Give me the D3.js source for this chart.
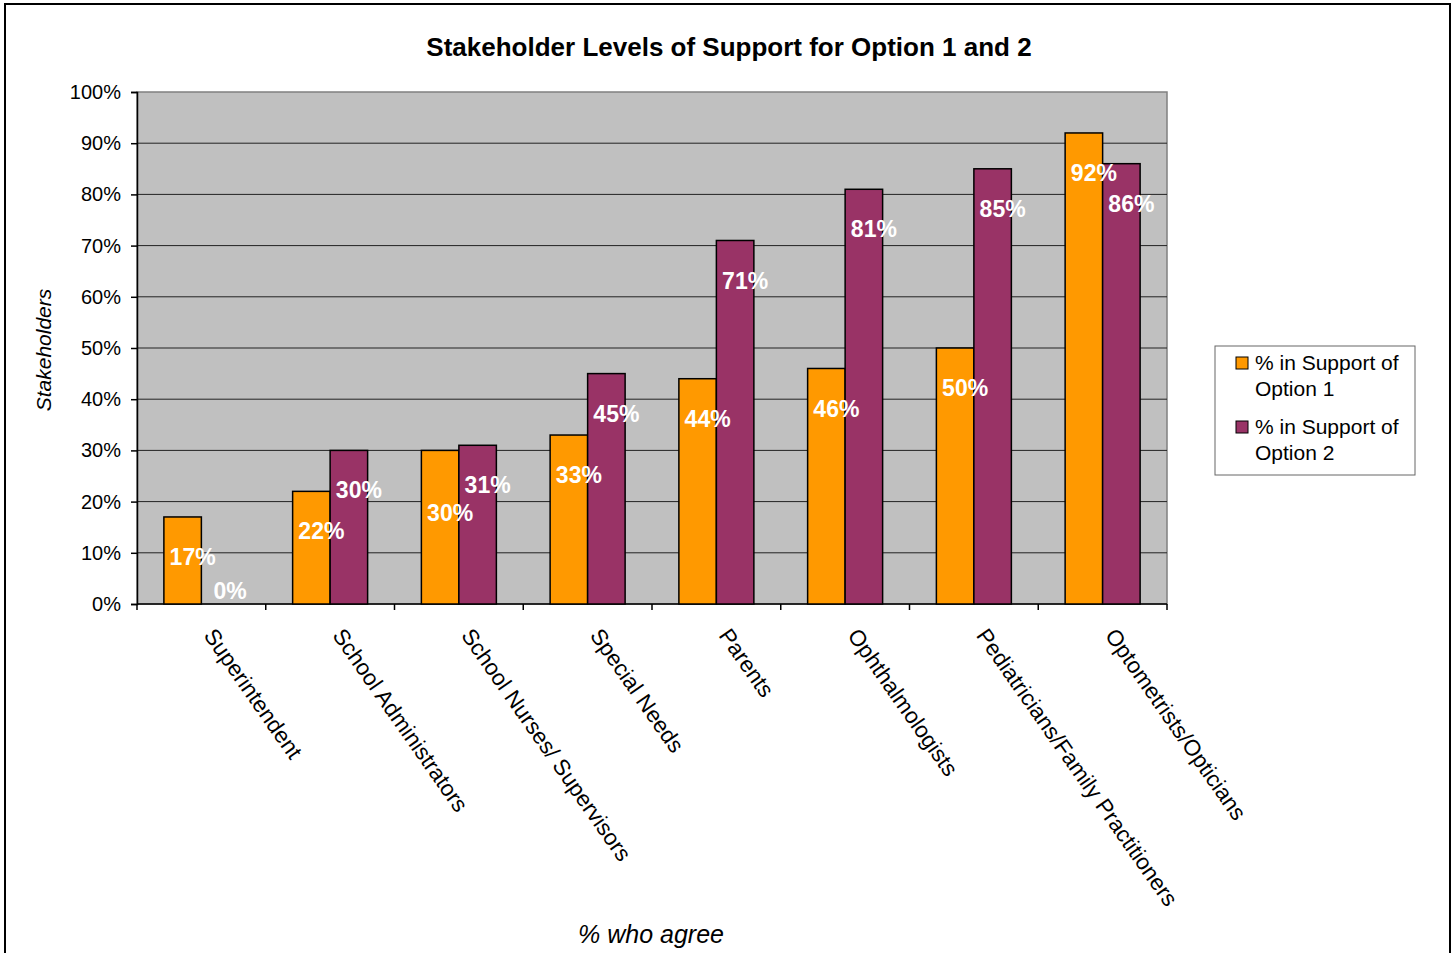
<!DOCTYPE html>
<html>
<head>
<meta charset="utf-8">
<script src="https://cdn.jsdelivr.net/npm/d3@7"></script>
<style>
  body { margin: 0; background: #fff; }
  svg { font-family: Arial, "Liberation Sans", sans-serif; }
</style>
</head>
<body>
<div id="chart"></div>
<script>
// chart data
var categories = ['Superintendent', 'School Administrators', 'School Nurses/ Supervisors',
  'Special Needs', 'Parents', 'Ophthalmologists', 'Pediatricians/Family Practitioners',
  'Optometrists/Opticians'];
var seriesNames = ['% in Support of Option 1', '% in Support of Option 2'];
var option1 = [17, 22, 30, 33, 44, 46, 50, 92];
var option2 = [0, 30, 31, 45, 71, 81, 85, 86];
var yTicks = [0, 10, 20, 30, 40, 50, 60, 70, 80, 90, 100];

var colors = ['#FF9900', '#993366'];

var width = 1456, height = 953;
var margin = {top: 92, left: 137, right: 289, bottom: 349};
var plotW = width - margin.left - margin.right,
    plotH = height - margin.top - margin.bottom;

var svg = d3.select('#chart').append('svg')
  .attr('width', width)
  .attr('height', height);

// outer frame
svg.append('rect')
  .attr('x', 5).attr('y', 4)
  .attr('width', 1445).attr('height', 970)
  .style('fill', 'none').style('stroke', '#000').style('stroke-width', 2);

var xScale = d3.scaleBand()
  .domain(categories)
  .range([0, plotW])
  .padding(0);

var xInner = d3.scaleBand()
  .domain([0, 1])
  .range([0, xScale.bandwidth()])
  .paddingInner(0)
  .paddingOuter(0.717);

var yScale = d3.scaleLinear()
  .domain([0, 100])
  .range([plotH, 0]);

var g = svg.append('g')
  .attr('transform', 'translate(' + margin.left + ',' + margin.top + ')');

// plot background
g.append('rect')
  .attr('width', plotW).attr('height', plotH)
  .style('fill', '#C0C0C0')
  .style('stroke', '#808080').style('stroke-width', 1.5);

// gridlines
g.selectAll('.grid').data(yTicks.filter(function(d) { return d > 0 && d < 100; }))
  .enter().append('line')
  .attr('x1', 0).attr('x2', plotW)
  .attr('y1', function(d) { return yScale(d); })
  .attr('y2', function(d) { return yScale(d); })
  .style('stroke', '#222').style('stroke-width', 1);

// y axis
var vAxis = d3.axisLeft(yScale)
  .tickValues(yTicks)
  .tickSize(6)
  .tickPadding(10)
  .tickFormat(function(d) { return d + '%'; });
var vGuide = g.append('g').call(vAxis);
vGuide.select('.domain').style('stroke', '#000').style('stroke-width', 1.5);
vGuide.selectAll('line').style('stroke', '#000').style('stroke-width', 1.5);
vGuide.selectAll('text')
  .style('font-size', '20px')
  .style('fill', '#000')
  .attr('font-family', 'Arial, "Liberation Sans", sans-serif');

// x axis baseline and ticks between groups
g.append('line')
  .attr('x1', 0).attr('x2', plotW)
  .attr('y1', plotH).attr('y2', plotH)
  .style('stroke', '#000').style('stroke-width', 1.5);
var boundaries = d3.range(categories.length + 1);
g.selectAll('.xtick').data(boundaries)
  .enter().append('line')
  .attr('x1', function(d) { return d * xScale.step(); })
  .attr('x2', function(d) { return d * xScale.step(); })
  .attr('y1', plotH).attr('y2', plotH + 6)
  .style('stroke', '#000').style('stroke-width', 1.5);

// bars
var rows = categories.map(function(c, i) {
  return {cat: c, vals: [option1[i], option2[i]]};
});

var groups = g.selectAll('.grp').data(rows)
  .enter().append('g')
  .attr('transform', function(d) { return 'translate(' + xScale(d.cat) + ',0)'; });

groups.selectAll('rect')
  .data(function(d) { return d.vals.map(function(v, j) { return {v: v, s: j}; }); })
  .enter().append('rect')
  .filter(function(d) { return d.v > 0; })
  .attr('x', function(d) { return xInner(d.s); })
  .attr('width', xInner.bandwidth())
  .attr('y', function(d) { return yScale(d.v); })
  .attr('height', function(d) { return plotH - yScale(d.v); })
  .style('fill', function(d) { return colors[d.s]; })
  .style('stroke', '#000').style('stroke-width', 1.5);

// value labels: inside the bar top; when the two labels of a group collide,
// the one on the shorter bar is pushed down below the other
function labelPositions(vals) {
  var ys = vals.map(function(v) { return Math.min(yScale(v) + 40, plotH - 13); });
  if (Math.abs(ys[0] - ys[1]) < 26 && vals[0] > 0 && vals[1] > 0) {
    var lo = vals[0] < vals[1] ? 0 : 1;
    ys[lo] = ys[1 - lo] + 28;
  }
  return ys;
}

groups.selectAll('.lbl')
  .data(function(d) {
    var ys = labelPositions(d.vals);
    return d.vals.map(function(v, j) { return {v: v, s: j, y: ys[j]}; });
  })
  .enter().append('text')
  .attr('x', function(d) { return xInner(d.s) + xInner.bandwidth() / 2 + 10; })
  .attr('y', function(d) { return d.y; })
  .attr('dy', '0.35em')
  .attr('text-anchor', 'middle')
  .style('font-size', '23px')
  .style('font-weight', 'bold')
  .style('fill', '#fff')
  .text(function(d) { return d.v + '%'; });

// category labels
g.selectAll('.cat').data(categories)
  .enter().append('text')
  .attr('transform', function(d) {
    return 'translate(' + (xScale(d) + xScale.bandwidth() / 2 + 8) + ',' + (plotH + 27) + ') rotate(55)';
  })
  .attr('text-anchor', 'start')
  .attr('dy', '0.35em')
  .style('font-size', '22.5px')
  .style('fill', '#000')
  .text(function(d) { return d; });

// title
svg.append('text')
  .attr('x', 729).attr('y', 56)
  .attr('text-anchor', 'middle')
  .style('font-size', '26px')
  .style('font-weight', 'bold')
  .text('Stakeholder Levels of Support for Option 1 and 2');

// axis titles
svg.append('text')
  .attr('transform', 'translate(51,350) rotate(-90)')
  .attr('text-anchor', 'middle')
  .style('font-size', '21px')
  .style('font-style', 'italic')
  .text('Stakeholders');

svg.append('text')
  .attr('x', 651).attr('y', 943)
  .attr('text-anchor', 'middle')
  .style('font-size', '25px')
  .style('font-style', 'italic')
  .text('% who agree');

// legend
var legend = svg.append('g').attr('transform', 'translate(1215,346)');
legend.append('rect')
  .attr('width', 200).attr('height', 129)
  .style('fill', '#fff')
  .style('stroke', '#666').style('stroke-width', 1);

var legendItems = legend.selectAll('.item').data(seriesNames)
  .enter().append('g')
  .attr('transform', function(d, i) { return 'translate(0,' + (i * 64) + ')'; });

legendItems.append('rect')
  .attr('x', 21).attr('y', 11)
  .attr('width', 12).attr('height', 12)
  .style('fill', function(d, i) { return colors[i]; })
  .style('stroke', '#000').style('stroke-width', 1);

legendItems.append('text')
  .attr('x', 40).attr('y', 24)
  .style('font-size', '21px')
  .text(function(d) { return d.replace(/ Option \d$/, ''); });

legendItems.append('text')
  .attr('x', 40).attr('y', 50)
  .style('font-size', '21px')
  .text(function(d) { return d.match(/Option \d$/)[0]; });
</script>
</body>
</html>
